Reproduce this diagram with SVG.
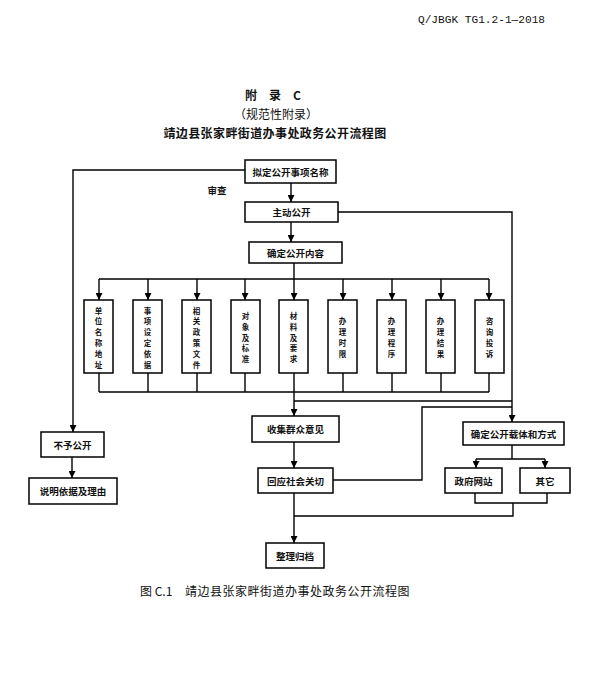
<svg xmlns="http://www.w3.org/2000/svg" width="589" height="682" viewBox="0 0 589 682">
<style>
.bg{fill:#ffffff}
.box{fill:#ffffff;stroke:#000;stroke-width:1.5}
.ln{fill:none;stroke:#000;stroke-width:1.4}
.t{font-family:"Noto Sans CJK SC","Noto Sans CJK JP",sans-serif;font-size:9.5px;font-weight:bold;fill:#111;text-anchor:middle;dominant-baseline:central}
.v{font-family:"Noto Sans CJK SC","Noto Sans CJK JP",sans-serif;font-size:7.5px;font-weight:bold;fill:#111;text-anchor:middle;dominant-baseline:central}
.h{font-family:"Noto Sans CJK SC","Noto Sans CJK JP",sans-serif;fill:#111;text-anchor:middle;dominant-baseline:central}
</style>
<defs>
<marker id="ah" markerUnits="userSpaceOnUse" markerWidth="7" markerHeight="7" refX="7" refY="3.5" orient="auto">
<path d="M0,0 L7,3.5 L0,7 z" fill="#000"/>
</marker>
</defs>
<rect class="bg" x="0" y="0" width="589" height="682"/>

<text x="418" y="20" font-family="'Liberation Mono',monospace" font-size="11" fill="#111" dominant-baseline="central" textLength="127" lengthAdjust="spacingAndGlyphs">Q/JBGK TG1.2-1—2018</text>

<text class="h" x="273" y="94" font-size="12" font-weight="bold">附　录　C</text>
<text class="h" x="276" y="113" font-size="12">（规范性附录）</text>
<text class="h" x="275" y="132" font-size="12" font-weight="bold" letter-spacing="0.4">靖边县张家畔街道办事处政务公开流程图</text>

<g id="connectors">
<path class="ln" d="M291,183 V202" marker-end="url(#ah)"/>
<path class="ln" d="M291,222 V242" marker-end="url(#ah)"/>
<path class="ln" d="M245,170 H73 V432" marker-end="url(#ah)"/>
<path class="ln" d="M72,457 V478" marker-end="url(#ah)"/>
<path class="ln" d="M338,212 H512 V422" marker-end="url(#ah)"/>
<path class="ln" d="M294,263 V279"/>
<path class="ln" d="M99,279 H489"/>
<path class="ln" d="M99,279 V300" marker-end="url(#ah)"/>
<path class="ln" d="M148,279 V300" marker-end="url(#ah)"/>
<path class="ln" d="M197,279 V300" marker-end="url(#ah)"/>
<path class="ln" d="M245,279 V300" marker-end="url(#ah)"/>
<path class="ln" d="M294,279 V300" marker-end="url(#ah)"/>
<path class="ln" d="M343,279 V300" marker-end="url(#ah)"/>
<path class="ln" d="M392,279 V300" marker-end="url(#ah)"/>
<path class="ln" d="M441,279 V300" marker-end="url(#ah)"/>
<path class="ln" d="M489,279 V300" marker-end="url(#ah)"/>
<path class="ln" d="M99,373 V392 M148,373 V392 M197,373 V392 M245,373 V392 M294,373 V392 M343,373 V392 M392,373 V392 M441,373 V392 M489,373 V392"/>
<path class="ln" d="M99,392 H489"/>
<path class="ln" d="M294,392 V416" marker-end="url(#ah)"/>
<path class="ln" d="M294,401 H512"/>
<path class="ln" d="M294,442 V468" marker-end="url(#ah)"/>
<path class="ln" d="M333,480 H422 V407 H512"/>
<path class="ln" d="M512,445 V459"/>
<path class="ln" d="M476,459 H545"/>
<path class="ln" d="M476,459 V468" marker-end="url(#ah)"/>
<path class="ln" d="M545,459 V468" marker-end="url(#ah)"/>
<path class="ln" d="M475,493 V503 H547 V493"/>
<path class="ln" d="M513,503 V516 H294"/>
<path class="ln" d="M294,493 V543" marker-end="url(#ah)"/>
<text x="217" y="190" class="t">审查</text>
</g>

<g id="n1"><rect class="box" x="245" y="160" width="91" height="23"/><text class="t" x="290.5" y="171.5">拟定公开事项名称</text></g>
<g id="n2"><rect class="box" x="245" y="202" width="93" height="20"/><text class="t" x="291.5" y="212">主动公开</text></g>
<g id="n3"><rect class="box" x="249" y="242" width="93" height="21"/><text class="t" x="295.5" y="252.5">确定公开内容</text></g>

<g id="c1"><rect class="box" x="84" y="300" width="29" height="73"/><text class="v"><tspan x="98.5" y="309.5">单</tspan><tspan x="98.5" y="320.4">位</tspan><tspan x="98.5" y="331.3">名</tspan><tspan x="98.5" y="342.2">称</tspan><tspan x="98.5" y="353.1">地</tspan><tspan x="98.5" y="364">址</tspan></text></g>
<g id="c2"><rect class="box" x="133" y="300" width="29" height="73"/><text class="v"><tspan x="147.5" y="309.5">事</tspan><tspan x="147.5" y="320.4">项</tspan><tspan x="147.5" y="331.3">设</tspan><tspan x="147.5" y="342.2">定</tspan><tspan x="147.5" y="353.1">依</tspan><tspan x="147.5" y="364">据</tspan></text></g>
<g id="c3"><rect class="box" x="182" y="300" width="29" height="73"/><text class="v"><tspan x="196.5" y="309.5">相</tspan><tspan x="196.5" y="320.4">关</tspan><tspan x="196.5" y="331.3">政</tspan><tspan x="196.5" y="342.2">策</tspan><tspan x="196.5" y="353.1">文</tspan><tspan x="196.5" y="364">件</tspan></text></g>
<g id="c4"><rect class="box" x="231" y="300" width="29" height="73"/><text class="v"><tspan x="245.5" y="314.7">对</tspan><tspan x="245.5" y="325.6">象</tspan><tspan x="245.5" y="336.5">及</tspan><tspan x="245.5" y="347.4">标</tspan><tspan x="245.5" y="358.3">准</tspan></text></g>
<g id="c5"><rect class="box" x="279" y="300" width="29" height="73"/><text class="v"><tspan x="293.5" y="314.7">材</tspan><tspan x="293.5" y="325.6">料</tspan><tspan x="293.5" y="336.5">及</tspan><tspan x="293.5" y="347.4">要</tspan><tspan x="293.5" y="358.3">求</tspan></text></g>
<g id="c6"><rect class="box" x="328" y="300" width="29" height="73"/><text class="v"><tspan x="342.5" y="320.1">办</tspan><tspan x="342.5" y="331">理</tspan><tspan x="342.5" y="341.9">时</tspan><tspan x="342.5" y="352.8">限</tspan></text></g>
<g id="c7"><rect class="box" x="377" y="300" width="29" height="73"/><text class="v"><tspan x="391.5" y="320.1">办</tspan><tspan x="391.5" y="331">理</tspan><tspan x="391.5" y="341.9">程</tspan><tspan x="391.5" y="352.8">序</tspan></text></g>
<g id="c8"><rect class="box" x="426" y="300" width="29" height="73"/><text class="v"><tspan x="440.5" y="320.1">办</tspan><tspan x="440.5" y="331">理</tspan><tspan x="440.5" y="341.9">结</tspan><tspan x="440.5" y="352.8">果</tspan></text></g>
<g id="c9"><rect class="box" x="475" y="300" width="29" height="73"/><text class="v"><tspan x="489.5" y="320.1">咨</tspan><tspan x="489.5" y="331">询</tspan><tspan x="489.5" y="341.9">投</tspan><tspan x="489.5" y="352.8">诉</tspan></text></g>

<g id="n4"><rect class="box" x="41" y="432" width="63" height="25"/><text class="t" x="72.5" y="444.5">不予公开</text></g>
<g id="n5"><rect class="box" x="29" y="478" width="88" height="26"/><text class="t" x="73" y="491">说明依据及理由</text></g>
<g id="n6"><rect class="box" x="252" y="416" width="87" height="26"/><text class="t" x="295.5" y="429">收集群众意见</text></g>
<g id="n7"><rect class="box" x="258" y="468" width="75" height="25"/><text class="t" x="295.5" y="480.5">回应社会关切</text></g>
<g id="n8"><rect class="box" x="463" y="422" width="101" height="23"/><text class="t" x="513.5" y="433.5">确定公开载体和方式</text></g>
<g id="n9"><rect class="box" x="445" y="468" width="57" height="25"/><text class="t" x="473.5" y="480.5">政府网站</text></g>
<g id="n10"><rect class="box" x="520" y="468" width="50" height="25"/><text class="t" x="545" y="480.5">其它</text></g>
<g id="n11"><rect class="box" x="266" y="543" width="58" height="25"/><text class="t" x="295" y="555.5">整理归档</text></g>

<text x="140" y="590" font-family="'Noto Sans CJK SC',sans-serif" font-size="12" fill="#111" dominant-baseline="central">图 C.1</text>
<text x="185" y="590" font-family="'Noto Sans CJK SC',sans-serif" font-size="12" fill="#111" dominant-baseline="central" letter-spacing="0.5">靖边县张家畔街道办事处政务公开流程图</text>
</svg>
